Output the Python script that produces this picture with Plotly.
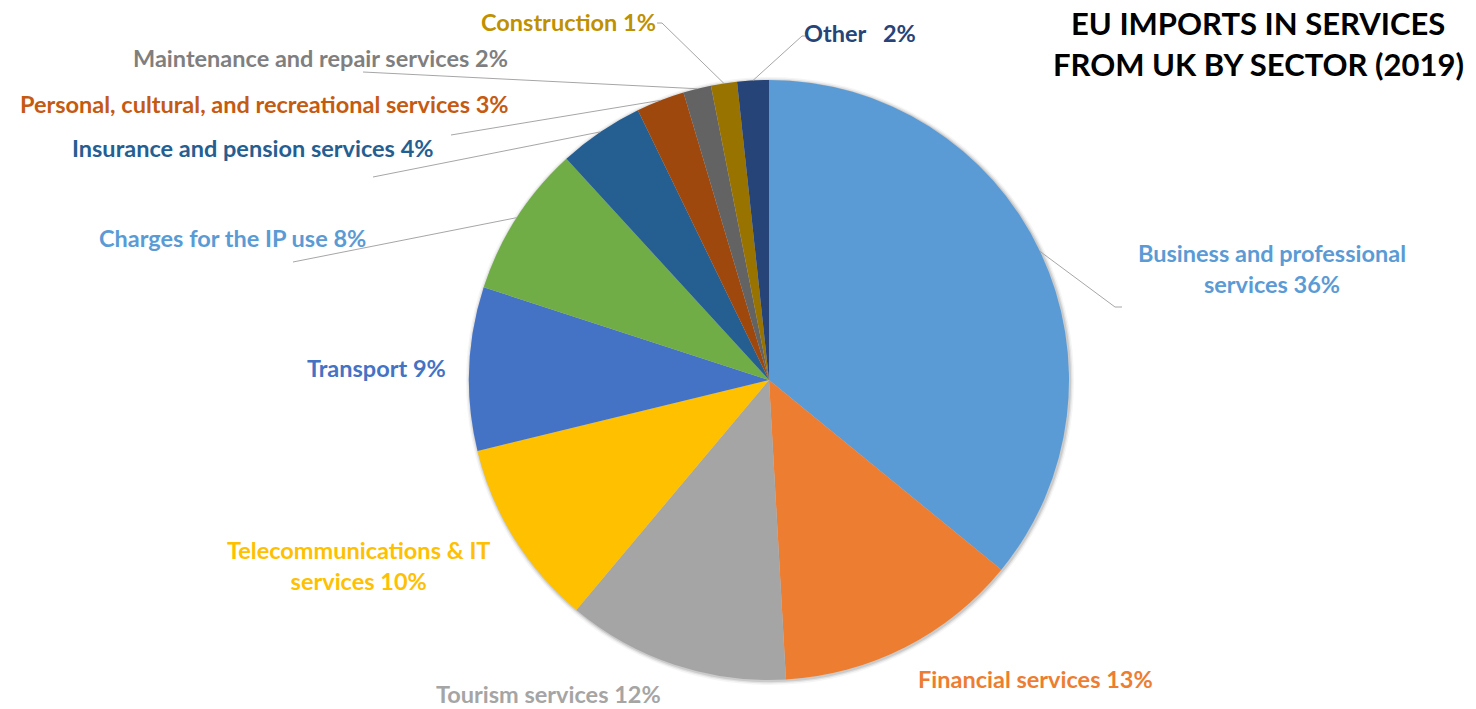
import math
import plotly.graph_objects as go

# ---- data ----
sectors = [
    "Business and professional services", "Financial services", "Tourism services",
    "Telecommunications & IT services", "Transport", "Charges for the IP use",
    "Insurance and pension services", "Personal, cultural, and recreational services",
    "Maintenance and repair services", "Construction", "Other",
]
shares = [35.9, 13.2, 12.0, 10.1, 8.8, 8.2, 4.6, 2.6, 1.5, 1.4, 1.7]
label_texts = [
    "Business and professional<br>services 36%", "Financial services 13%", "Tourism services 12%",
    "Telecommunications & IT<br>services 10%", "Transport 9%", "Charges for the IP use 8%",
    "Insurance and pension services 4%", "Personal, cultural, and recreational services 3%",
    "Maintenance and repair services 2%", "Construction 1%", "Other   2%",
]
slice_colors = ["#5B9BD5", "#ED7D31", "#A5A5A5", "#FFC000", "#4472C4", "#70AD47",
                "#255E91", "#9E480E", "#636363", "#997300", "#264478"]
text_colors = ["#5B9BD5", "#ED7D31", "#A5A5A5", "#FFC000", "#4472C4", "#5B9BD5",
               "#255E91", "#C55A11", "#7F7F7F", "#BF9000", "#264478"]
title_lines = ["EU IMPORTS IN SERVICES", "FROM UK BY SECTOR (2019)"]

# ---- layout (pixels, in the reference's screen coordinates) ----
W, H = 1476, 709
CX, CY, R = 769, 380, 300
FONT = "Lato"

def px(x):
    return x / W

def py(y):
    return 1 - y / H

# label centres (pixels)
label_pos = [(1272, 268), (1035, 679), (548, 694), (358, 565), (377, 368), (232, 238),
             (253, 148), (264, 104), (320, 58), (568, 22), (860, 33)]
# leader-line waypoints after the pie edge (None = no leader)
leader_pts = [[(1115, 307), (1122, 307)], None, None, None, None, [(293, 262)],
              [(373, 177)], [(451, 135)], [(363, 72)], [(662, 23), (657, 23)],
              [(802, 36), (807, 36)]]

fig = go.Figure(go.Pie(
    labels=sectors, values=shares, sort=False, direction="clockwise", rotation=0,
    marker=dict(colors=slice_colors, line=dict(width=0)), textinfo="none",
    hoverinfo="label+percent", showlegend=False,
    domain=dict(x=[px(CX - R), px(CX + R)], y=[py(CY + R), py(CY - R)]),
))

annotations = []
shapes = []

# soft shadow around the pie
for grow, alpha in [(4, 0.04), (2.5, 0.07), (1.2, 0.10)]:
    shapes.append(dict(type="circle", xref="paper", yref="paper", layer="below",
                       x0=px(CX - R - grow + 1), x1=px(CX + R + grow + 1),
                       y0=py(CY + R + grow + 1), y1=py(CY - R - grow + 1),
                       fillcolor=f"rgba(0,0,0,{alpha})", line=dict(width=0)))

total = sum(shares)
cum = 0.0
for i, v in enumerate(shares):
    mid = (cum + v / 2) / total * 2 * math.pi
    cum += v
    tx, ty = label_pos[i]
    annotations.append(dict(
        x=px(tx), y=py(ty), xref="paper", yref="paper", text=label_texts[i],
        showarrow=False, xanchor="center", yanchor="middle", align="center",
        font=dict(family=FONT, size=23.5, color=text_colors[i], weight="bold"),
    ))
    if leader_pts[i]:
        sx = CX + R * math.sin(mid)
        sy = CY - R * math.cos(mid)
        pts = [(sx, sy)] + leader_pts[i]
        path = "M " + " L ".join(f"{px(a)},{py(b)}" for a, b in pts)
        shapes.append(dict(type="path", xref="paper", yref="paper", path=path,
                           line=dict(color="#A6A6A6", width=1)))

for line_text, ty in zip(title_lines, [23, 64]):
    annotations.append(dict(
        x=px(1258), y=py(ty), xref="paper", yref="paper", text=line_text,
        showarrow=False, xanchor="center", yanchor="middle", align="center",
        font=dict(family=FONT, size=31, color="#000000", weight="bold"),
    ))

fig.update_layout(
    width=W, height=H, margin=dict(l=0, r=0, t=0, b=0),
    paper_bgcolor="white", plot_bgcolor="white",
    annotations=annotations, shapes=shapes,
)
fig.write_html("out.html", config={"displayModeBar": False},
               post_script="document.body.style.margin='0';")
